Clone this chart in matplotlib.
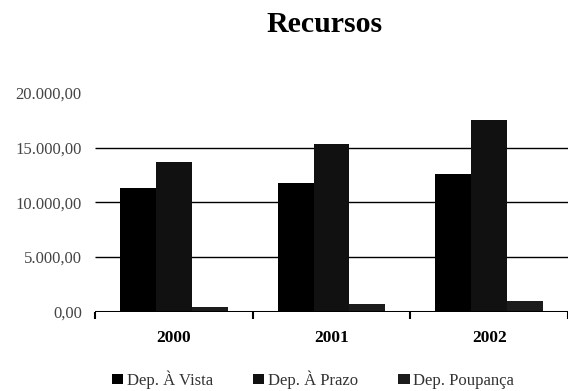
import matplotlib.pyplot as plt
import numpy as np

anos = ['2000', '2001', '2002']
series = ['Dep. À Vista', 'Dep. À Prazo', 'Dep. Poupança']
dep_vista = [11300, 11750, 12600]
dep_prazo = [13700, 15300, 17500]
dep_poupanca = [420, 680, 950]
cores = ['#000000', '#111111', '#1c1c1c']
yticks = [0, 5000, 10000, 15000, 20000]
ylabels = ['0,00', '5.000,00', '10.000,00', '15.000,00', '20.000,00']

plt.rcParams['font.family'] = ['Liberation Serif', 'DejaVu Serif']

fig = plt.figure(figsize=(5.68, 3.91), dpi=100)
ax = fig.add_axes([95 / 568, (391 - 311.7) / 391, 473 / 568, (311.7 - 93) / 391])

x = np.arange(len(anos))
w = 0.227
for i, (vals, nome) in enumerate(zip([dep_vista, dep_prazo, dep_poupanca], series)):
    ax.bar(x + (i - 1) * w, vals, w, color=cores[i], label=nome, zorder=3)

# linhas de grade (sem a de 20.000)
ax.hlines(yticks[1:-1], -0.5, 2.5, color='black', linewidth=1, zorder=1)
ax.axhline(0, color='black', linewidth=2.2, zorder=4)

ax.set_xlim(-0.5, 2.5)
ax.set_ylim(0, 20000)
ax.set_yticks(yticks)
ax.set_yticklabels(ylabels, color='#444444', fontsize=12)
ax.tick_params(axis='y', length=0, pad=9.5)

ax.set_xticks(x)
ax.set_xticklabels(anos, fontweight='bold', fontsize=12.5)
ax.tick_params(axis='x', which='major', length=0, pad=13)
ax.set_xticks([-0.5, 0.5, 1.5, 2.5], minor=True)
ax.tick_params(axis='x', which='minor', length=5, width=1.5, direction='out')

for s in ax.spines.values():
    s.set_visible(False)

fig.text(0.5717, 1 - 31.7 / 391, 'Recursos', ha='center', va='baseline',
         fontsize=21.5, fontweight='bold')

fig.legend(loc='center left', bbox_to_anchor=(111.7 / 568, 1 - 380 / 391), ncol=3,
           frameon=False, fontsize=12, handlelength=0.7, handleheight=0.55,
           handletextpad=0.2, columnspacing=2.4, borderpad=0, borderaxespad=0,
           labelcolor='#333333')

fig.savefig('out.png', dpi=100)
